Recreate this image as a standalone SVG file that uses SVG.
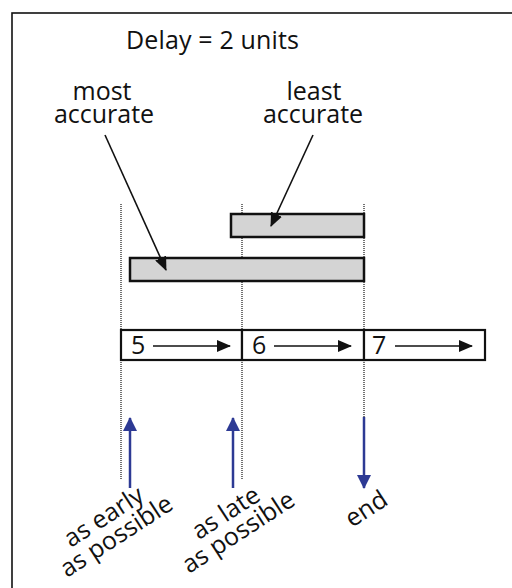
<svg xmlns="http://www.w3.org/2000/svg" width="512" height="588" viewBox="0 0 512 588">
<defs>
<style>
text{font-family:"Open Sans","Liberation Sans",sans-serif;font-size:25px;fill:#111}
.dot{stroke:#444;stroke-width:1.5;stroke-dasharray:1 1;fill:none}
.bar{fill:#d4d4d4;stroke:#111;stroke-width:2.5}
.box{fill:#fff;stroke:#111;stroke-width:2.2}
.ptr{stroke:#111;stroke-width:1.6;fill:none}
.blue{stroke:#2d3a94;stroke-width:2.5;fill:none}
</style>
<marker id="ah" markerWidth="14" markerHeight="12" refX="13" refY="6" orient="auto" markerUnits="userSpaceOnUse">
<path d="M0,0 L14,6 L0,12 Z" fill="#111"/>
</marker>
<marker id="bh" markerWidth="14" markerHeight="14" refX="13" refY="7" orient="auto" markerUnits="userSpaceOnUse">
<path d="M0,0 L14,7 L0,14 Z" fill="#2d3a94"/>
</marker>
</defs>
<rect x="12" y="13" width="520" height="600" fill="#fff" stroke="#111" stroke-width="1.6"/>
<g id="title"><text x="212.5" y="49" text-anchor="middle" textLength="173" lengthAdjust="spacing">Delay = 2 units</text></g>
<g id="guides">
<line class="dot" x1="121" y1="204" x2="121" y2="480"/>
<line class="dot" x1="242" y1="204" x2="242" y2="480"/>
<line class="dot" x1="364" y1="204" x2="364" y2="480"/>
</g>
<g id="bar-least"><rect class="bar" x="231" y="214" width="133" height="23"/></g>
<g id="bar-most"><rect class="bar" x="130" y="258" width="234" height="23"/></g>
<g id="label-most"><text x="102" y="100" text-anchor="middle">most</text><text x="104" y="123" text-anchor="middle">accurate</text></g>
<g id="label-least"><text x="314" y="100" text-anchor="middle">least</text><text x="313" y="123" text-anchor="middle">accurate</text></g>
<g id="box5"><rect class="box" x="121" y="330" width="121" height="30"/><text x="131" y="354">5</text><line class="ptr" x1="153" y1="346" x2="230" y2="346" marker-end="url(#ah)"/></g>
<g id="box6"><rect class="box" x="242" y="330" width="122" height="30"/><text x="252" y="354">6</text><line class="ptr" x1="274" y1="346" x2="351" y2="346" marker-end="url(#ah)"/></g>
<g id="box7"><rect class="box" x="364" y="330" width="121" height="30"/><text x="372" y="354">7</text><line class="ptr" x1="395" y1="346" x2="472" y2="346" marker-end="url(#ah)"/></g>
<g id="connectors">
<line class="ptr" x1="105" y1="135" x2="166" y2="270" marker-end="url(#ah)"/>
<line class="ptr" x1="313" y1="135" x2="271" y2="226" marker-end="url(#ah)"/>
<line class="blue" x1="130" y1="488" x2="130" y2="418" marker-end="url(#bh)"/>
<line class="blue" x1="233" y1="488" x2="233" y2="418" marker-end="url(#bh)"/>
<line class="blue" x1="364" y1="417" x2="364" y2="488" marker-end="url(#bh)"/>
</g>
<g id="label-early" transform="translate(111,528) rotate(-33)"><text x="0" y="-5" text-anchor="middle">as early</text><text x="0" y="18" text-anchor="middle">as possible</text></g>
<g id="label-late" transform="translate(233,524) rotate(-33)"><text x="0" y="-5" text-anchor="middle">as late</text><text x="0" y="18" text-anchor="middle">as possible</text></g>
<g id="label-end" transform="translate(367,510) rotate(-33)"><text x="0" y="7" text-anchor="middle">end</text></g>
</svg>
